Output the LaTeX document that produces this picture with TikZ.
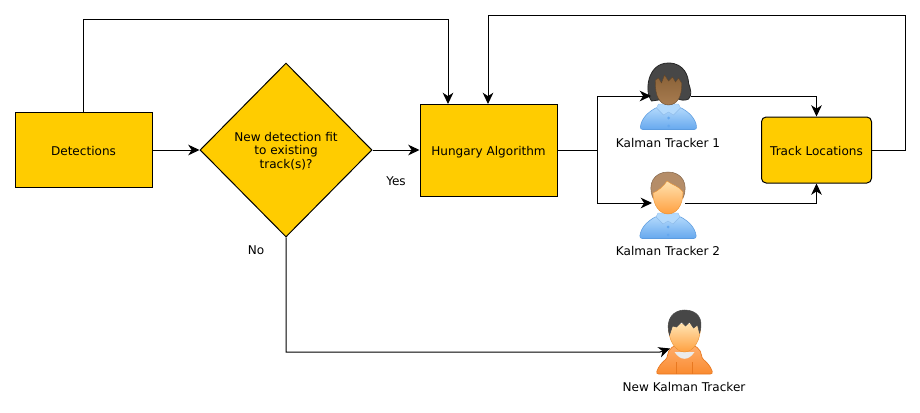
\documentclass[tikz,border=0pt]{standalone}
\usepackage{fontspec}
\setmainfont{DejaVu Sans}
\usetikzlibrary{arrows.meta,shapes.geometric}
\definecolor{boxfill}{HTML}{FFCC00}
\definecolor{shirtT}{HTML}{B4DAFC}
\definecolor{shirtB}{HTML}{66A8EE}
\definecolor{shirtE}{HTML}{5C9CE0}
\definecolor{faceT}{HTML}{FFE2B0}
\definecolor{faceB}{HTML}{FFA040}
\definecolor{faceE}{HTML}{E89030}
\definecolor{dfaceT}{HTML}{8A6238}
\definecolor{dfaceB}{HTML}{A87C50}
\definecolor{hairD}{HTML}{474747}
\definecolor{hairB}{HTML}{B58D68}
\definecolor{hoodT}{HTML}{FFB070}
\definecolor{hoodB}{HTML}{FA8B30}
\definecolor{hoodE}{HTML}{E87820}
\tikzset{
  x=0.75pt,y=-0.75pt,
  flowbox/.style={draw=black,fill=boxfill,line width=0.75pt,inner sep=0pt,align=center,text height=7.5pt,text depth=0pt,font=\fontsize{9.05pt}{10.2pt}\selectfont},
  txt/.style={inner sep=0pt,align=center,font=\fontsize{9.05pt}{10.2pt}\selectfont},
  conn/.style={draw=black,line width=0.75pt,-{Stealth[length=8.5pt,width=8pt,inset=2.6pt]}},
}
\newcommand{\shirtblue}{%
  \draw[draw=shirtE,line width=0.4pt,top color=shirtT,bottom color=shirtB,rounded corners=2pt]
    (-28.5,66.5) .. controls (-27,55) and (-20,49) .. (-11,44) -- (11,44) .. controls (20,49) and (27,55) .. (28.5,66.5) -- cycle;
  \fill[shirtT,draw=shirtE!70!white,line width=0.3pt] (-10,41) -- (-12,45) -- (-5,52) -- (0,49) -- (5,52) -- (12,45) -- (10,41) -- cycle;
  \fill[shirtB] (0,55) circle (1.5) (0,63) circle (1.5);
}
\begin{document}
\begin{tikzpicture}
\useasboundingbox (0,0) rectangle (920,412);
\fill[white] (0,0) rectangle (920,412);

% person 1
\begin{scope}[shift={(668.5,63)}]
  \fill[hairD,draw=black!85,line width=0.6pt] (-17,38) .. controls (-24,30) and (-22,0) .. (0,0)
     .. controls (16,0) and (20,14) .. (20,20) .. controls (22,26) and (24,32) .. (20,36) .. controls (16,38) and (12,37) .. (10,36) -- (-10,37) -- cycle;
  \shirtblue
  \shade[top color=dfaceT,bottom color=dfaceB,draw=dfaceT!70!black,line width=0.3pt]
    (-13,17) -- (-10,15) -- (-7,20) -- (-4,12) -- (0,18) -- (4,14) -- (7,19) -- (10,15) -- (13,20)
    .. controls (14,34) and (8,42) .. (0,42) .. controls (-8,42) and (-14,34) .. (-13,17) -- cycle;
\end{scope}

% person 2
\begin{scope}[shift={(668,172)}]
  \shirtblue
  \fill[hairB,draw=hairB!75!black,line width=0.4pt] (-15,26) .. controls (-21,12) and (-14,0) .. (0,0) .. controls (14,0) and (21,12) .. (15,26) -- cycle;
  \shade[top color=faceT,bottom color=faceB,draw=faceE,line width=0.3pt]
    (-15,21) .. controls (-10,19) and (-4,14) .. (-1,9) .. controls (4,13) and (11,14) .. (15,20)
    .. controls (15,34) and (8,42) .. (0,42) .. controls (-8,42) and (-15,34) .. (-15,21) -- cycle;
\end{scope}

% new tracker
\begin{scope}[shift={(684.5,310)}]
  \draw[draw=hoodE,line width=0.5pt,top color=hoodT,bottom color=hoodB,rounded corners=2pt]
    (-28.5,64) .. controls (-26,56) and (-22,52) .. (-17,48) .. controls (-17,40) and (-10,33) .. (0,35)
    .. controls (10,33) and (17,40) .. (17,48) .. controls (22,52) and (26,56) .. (28.5,64) -- cycle;
  \fill[black!8] (-10,42) .. controls (-4,51) and (4,51) .. (10,42) -- cycle;
  \draw[hoodE,line width=0.4pt] (-8,52) -- (-8,64) (8,52) -- (8,64);
  \shade[top color=faceT,bottom color=faceB,draw=faceE,line width=0.3pt]
    (-16,14) -- (16,14) .. controls (17,30) and (9,42) .. (0,42) .. controls (-9,42) and (-17,30) .. (-16,14) -- cycle;
  \fill[hairD,draw=black!70,line width=0.4pt] (-15,25) .. controls (-20,8) and (-10,0) .. (0,0) .. controls (12,0) and (20,8) .. (15,23)
     -- (13,15) -- (9,18) -- (5,12) -- (1,16) -- (-3,12) -- (-8,17) -- (-12,16) -- cycle;
\end{scope}

% nodes
\node[flowbox,minimum width=102.75pt,minimum height=56.25pt] (det) at (83.5,150) {Detections};
\node[flowbox,diamond,aspect=1,text height=27.8pt,text depth=0pt,minimum width=129pt,minimum height=130.5pt] (dec) at (286,150) {New detection fit\\to existing\\track(s)?};
\node[flowbox,minimum width=102.75pt,minimum height=69pt] (hun) at (488.5,150) {Hungary Algorithm};
\node[flowbox,rounded corners=3.5pt,minimum width=82.5pt,minimum height=49.5pt] (trk) at (816.5,150) {Track Locations};
\coordinate (p1in) at (651,96);
\coordinate (p1out) at (691,96);
\coordinate (p2in) at (652,203);
\coordinate (p2out) at (685,203);
\coordinate (p3in) at (670,348.5);
\coordinate (hunT1) at (448,104);
\coordinate (hunT2) at (488,104);
\coordinate (detT) at (83,113);

% labels
\node[txt] (yes) at (396,181) {Yes};
\node[txt] (no) at (256,250) {No};
\node[txt] (l1) at (668,143) {Kalman Tracker 1};
\node[txt] (l2) at (668,250.5) {Kalman Tracker 2};
\node[txt] (l3) at (684,387) {New Kalman Tracker};

% connectors
\draw[conn] (det.east) -- (dec.west);
\draw[conn] (dec.east) -- (hun.west);
\draw[conn] (detT) -- (83,19) -- (448,19) -- (hunT1);
\draw[conn] (hun.east) -- (597,150) -- (597,96) -- (p1in);
\draw[conn] (hun.east) -- (597,150) -- (597,203) -- (p2in);
\draw[conn] (p1out) -- (trk.north |- p1out) -- (trk.north);
\draw[conn] (p2out) -- (trk.south |- p2out) -- (trk.south);
\draw[conn] (trk.east) -- (905,150) -- (905,15) -- (488,15) -- (hunT2);
\draw[conn] (dec.south) -- (286,352) -- (660,352) -- (p3in);
\end{tikzpicture}
\end{document}
